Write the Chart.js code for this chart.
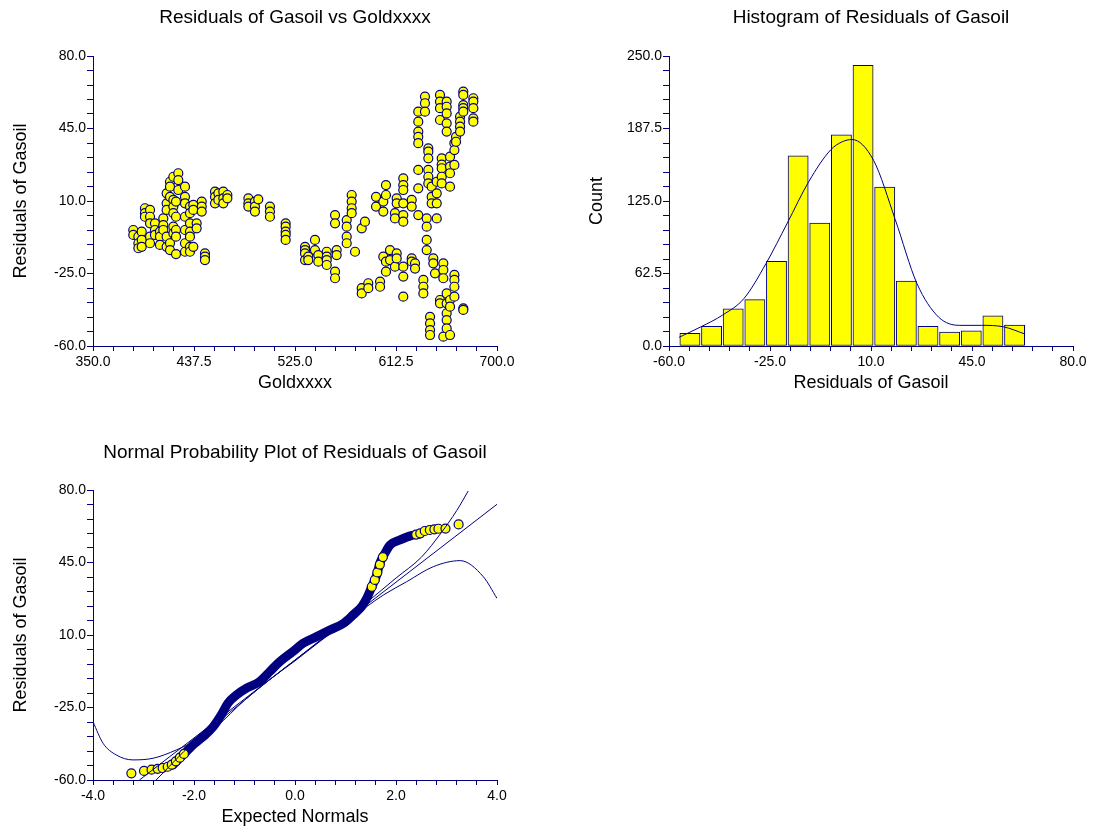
<!DOCTYPE html>
<html>
<head>
<meta charset="utf-8">
<script src="https://cdn.jsdelivr.net/npm/chart.js@4/dist/chart.umd.min.js"></script>
<style>
  html, body { margin: 0; padding: 0; background: #fff; overflow: hidden; }
  .panel { position: absolute; }
</style>
</head>
<body>
<div class="panel" style="left:0;top:0;width:530px;height:396px"><canvas id="scatterChart"></canvas></div>
<div class="panel" style="left:560px;top:0;width:541px;height:396px"><canvas id="histChart"></canvas></div>
<div class="panel" style="left:0;top:434px;width:530px;height:396px"><canvas id="qqChart"></canvas></div>
<script>
// ---- residuals vs Goldxxxx (stacked columns) ----
const goldCols = [384.9, 389.3, 392.2, 395.0, 399.4, 403.7, 408.0, 410.9, 413.8, 416.7,
  419.6, 421.9, 423.9, 429.7, 434.0, 436.9, 439.8, 444.2, 447.0, 455.7,
  458.6, 462.9, 466.4, 484.6, 490.3, 493.2, 503.3, 516.9, 533.7, 536.5,
  542.3, 545.2, 552.5, 559.7, 561.1, 569.8, 574.1, 577.0, 582.8, 585.6,
  588.5, 595.2, 598.7, 601.5, 603.8, 607.3, 611.6, 613.1, 618.8, 626.1,
  629.0, 631.8, 636.2, 637.6, 639.1, 640.5, 642.0, 643.4, 644.8, 646.3,
  647.8, 650.6, 652.1, 653.5, 656.4, 659.3, 663.1, 664.5, 668.0, 670.8, 679.5];
const residCols = [
  [-4.0, -6.4], [-7.2, -10.4, -12.8], [-4.8, -8.8, -12.1], [6.5, 4.1, 2.4],
  [5.7, 2.4, -0.8, -7.2, -10.4], [-0.8, -4.0, -6.4], [-4.8, -7.2, -11.2], [1.6, -1.6, -4.0],
  [13.7, 8.9, 5.7, -7.2, -12.1], [19.3, 16.9, 12.0, -10.4, -13.7],
  [21.7, 10.5, 7.3, 4.1, -2.4, -5.6], [9.7, 2.4, -4.0, -7.2, -15.6], [23.4, 20.1, 15.3],
  [16.9, 12.0, 8.9, 2.4, -4.0, -10.4, -14.5], [7.3, 4.1, -0.8, -4.8, -7.2, -12.1, -14.5],
  [8.1, 5.7, -12.1], [-0.8, -3.2], [9.7, 7.3, 4.9], [-15.3, -16.9, -18.5], [14.5, 12.0, 8.9],
  [13.7, 10.5], [14.5, 11.3, 8.9], [12.9, 11.3], [11.3, 8.9, 7.3], [9.7, 7.3, 4.9], [10.8],
  [7.3, 4.9, 2.4], [-0.8, -2.4, -4.8, -6.4, -8.8], [-12.1, -13.7, -15.3, -18.5], [-16.9, -18.5],
  [-8.8, -13.7], [-16.1, -19.3], [-14.5, -16.9, -18.5, -20.9], [3.2, -0.8, -24.1, -27.3],
  [-13.7, -16.1], [0.8, -2.4, -7.2, -10.4], [12.9, 9.7, 6.5, 4.1], [-14.5], [-3.2, -32.1, -34.6],
  [0.0], [-29.7, -32.1], [12.0, 7.3], [-28.9, -31.4], [9.7, 4.9, -16.9], [17.7, 12.9, -19.3, -24.1],
  [-13.7, -18.5], [4.1, 1.6, -21.7], [11.3, 8.9, -15.3, -17.7],
  [20.9, 17.7, 15.3, 8.9, 3.2, 0.0, -21.7, -26.5, -36.2], [10.5, 7.3, -17.7, -19.3],
  [-20.1, -22.6], [53.1, 48.3, 43.5, 41.0, 37.9, 25.0, 16.1, 3.2], [-28.1, -31.4, -34.6],
  [60.4, 57.2, 53.1], [1.6, -2.4, -8.8, -13.7], [35.4, 33.8, 30.6, 25.0, 21.7, 18.5],
  [-45.9, -49.1, -52.3, -54.7], [16.9, 12.0, 8.9], [-17.7, -20.1], [-24.9],
  [19.3, 13.7, 8.9, 1.6], [61.2, 58.0, 54.8, 49.1, -37.8, -39.4], [30.6, 27.6, 25.8, 21.7, 18.5],
  [-20.1, -23.3, -27.3, -55.5], [58.0, 55.5, 52.3, 47.5, 43.5, -34.6, -39.4, -44.2, -47.5, -51.5],
  [31.4, 26.6, 23.4, 16.9, -37.8, -41.0, -54.7], [37.9, 34.6, 27.4, -25.7, -28.1, -31.4, -36.2],
  [41.0, 38.6], [50.7, 48.3, 45.9, 43.5], [62.8, 61.2, 56.3, 54.8, 53.1, -41.8, -42.6],
  [59.6, 58.0, 54.8, 49.9, 48.3]
];

// ---- histogram of residuals ----
const binCenters = [-52.75, -45.25, -37.75, -30.25, -22.75, -15.25, -7.75, -0.25,
  7.25, 14.75, 22.25, 29.75, 37.25, 44.75, 52.25, 59.75];
const binCounts = [11, 17, 32, 40, 73, 164, 106, 182, 242, 137, 56, 17, 12, 13, 26, 18];
const densX = [-56.5, -48.9, -41.4, -34.0, -26.4, -19.0, -11.5, -4.0, 0.0, 3.4, 10.9, 18.4, 25.9, 33.4, 40.8, 48.3, 55.8, 63.4];
const densY = [7.5, 16.6, 26.7, 41, 71, 106, 142, 169, 176, 178, 160, 109, 54, 25, 17.8, 17.8, 16.6, 10.3];

// ---- normal probability plot ----
const qqBandX = [-2.42, -2.32, -2.15, -2.02, -1.82, -1.62, -1.46, -1.33, -1.16, -0.96, -0.70, -0.50, -0.30,
  -0.04, 0.16, 0.43, 0.69, 0.96, 1.15, 1.32, 1.42, 1.52, 1.62, 1.68, 1.78, 1.88, 2.08, 2.30, 2.48];
const qqBandY = [-52.8, -50.3, -46.3, -43.1, -39.1, -34.3, -28.6, -23.0, -19.0, -15.7, -12.5, -7.7, -2.9,
  2.0, 6.0, 9.2, 12.4, 15.6, 19.7, 23.7, 27.7, 33.3, 39.0, 44.6, 49.4, 53.4, 55.9, 58.0, 58.8];
const qqPtX = [-3.24, -2.99, -2.84, -2.72, -2.62, -2.52, -2.44, -2.36, -2.28, -2.20,
  1.52, 1.58, 1.63, 1.68, 1.74, 2.40, 2.48, 2.57, 2.67, 2.76, 2.84, 2.98, 3.24];
const qqPtY = [-56.8, -55.6, -55.0, -54.6, -54.2, -53.6, -52.6, -51.0, -49.2, -47.4,
  33.3, 36.6, 40.2, 44.0, 47.6, 58.5, 59.1, 60.2, 60.7, 61.0, 61.3, 61.4, 63.4];
const refLineX = [-3.08, 4.0];
const refLineY = [-60, 73.1];
const upperX = [-2.75, -2.4, -2.0, -1.5, -1.0, -0.5, 0, 0.5, 1.0, 1.5, 2.0, 2.5, 2.9, 3.2, 3.43];
const upperY = [-60, -51.2, -41.5, -31.5, -21.5, -11.5, -2.1, 7.5, 17.3, 27.3, 37.5, 47.5, 59.5, 70, 79.5];
const polyX = [-4, -3.8, -3.54, -3.21, -2.81, -2.35, -1.89, -1.56, -1.0, -0.5, 0, 0.5, 1.0, 1.42, 1.75, 2.21, 2.74, 3.27, 3.73, 4.0];
const polyY = [-31.9, -42.3, -47.9, -50.3, -49.5, -45.5, -39.9, -34.3, -21.5, -11.5, -2.5, 7.0, 16.0, 23.7, 29.3, 35.7, 43.0, 45.9, 38.1, 27.7];

const NAVY = '#000080';
const YELLOW = '#ffff00';
const FONT = "'Liberation Sans', Arial, Helvetica, sans-serif";

const zip = (xs, ys) => xs.map((x, i) => ({ x: x, y: ys[i] }));

// title centred over the plot area, like the original
const panelTitle = {
  id: 'panelTitle',
  afterDraw(chart, args, opts) {
    const { ctx, chartArea } = chart;
    ctx.save();
    ctx.font = '19px ' + FONT;
    ctx.fillStyle = '#000';
    ctx.textAlign = 'center';
    ctx.textBaseline = 'middle';
    ctx.fillText(opts.text, (chartArea.left + chartArea.right) / 2, opts.y);
    ctx.restore();
  }
};

function axis(min, max, step, title, horizontal, width, titlePad) {
  return {
    type: 'linear',
    min: min,
    max: max,
    offset: false,
    afterFit: (s) => { if (horizontal) s.height = 50; else s.width = width; },
    grid: { drawOnChartArea: false, drawTicks: true, tickLength: horizontal ? 5 : 6, tickColor: NAVY, color: NAVY, offset: false },
    border: { display: true, color: NAVY, width: 1 },
    ticks: {
      stepSize: step,
      autoSkip: false,
      maxTicksLimit: 100,
      maxRotation: 0,
      padding: horizontal ? 3 : 1,
      color: '#000',
      font: { family: FONT, size: 14 },
      callback: (v, i) => (i % 5 === 0 ? Number(v).toFixed(1) : '')
    },
    title: {
      display: true,
      text: title,
      color: '#000',
      font: { family: FONT, size: 18 },
      padding: horizontal ? { top: 0, bottom: 2 } : { top: titlePad, bottom: 0 }
    }
  };
}

function baseOptions(titleText, titleY, padRight) {
  return {
    responsive: true,
    maintainAspectRatio: false,
    animation: false,
    layout: { padding: { top: 56, right: padRight, bottom: 0, left: 0 } },
    plugins: {
      legend: { display: false },
      tooltip: { enabled: false },
      panelTitle: { text: titleText, y: titleY }
    }
  };
}

// scatter of residuals vs Goldxxxx
const scatterPts = goldCols.flatMap((g, i) => residCols[i].map(r => ({ x: g, y: r })));
const opt1 = baseOptions('Residuals of Gasoil vs Goldxxxx', 18, 33);
opt1.scales = {
  x: axis(350, 700, 17.5, 'Goldxxxx', true),
  y: axis(-60, 80, 7, 'Residuals of Gasoil', false, 93, 10)
};
new Chart(document.getElementById('scatterChart'), {
  type: 'scatter',
  data: { datasets: [{
    data: scatterPts,
    pointRadius: 4.5,
    pointBorderWidth: 1.2,
    pointBackgroundColor: YELLOW,
    pointBorderColor: NAVY
  }] },
  options: opt1,
  plugins: [panelTitle]
});

// histogram with density curve
const opt2 = baseOptions('Histogram of Residuals of Gasoil', 18, 28);
opt2.scales = {
  x: axis(-60, 80, 7, 'Residuals of Gasoil', true),
  y: axis(0, 250, 12.5, 'Count', false, 109, 26)
};
new Chart(document.getElementById('histChart'), {
  type: 'bar',
  data: { datasets: [
    {
      type: 'line',
      data: zip(densX, densY),
      borderColor: NAVY,
      borderWidth: 1,
      pointRadius: 0,
      cubicInterpolationMode: 'monotone',
      order: 0
    },
    {
      type: 'bar',
      data: zip(binCenters, binCounts),
      backgroundColor: YELLOW,
      borderColor: NAVY,
      borderWidth: 1,
      borderSkipped: false,
      barPercentage: 1,
      categoryPercentage: 1,
      order: 1
    }
  ] },
  options: opt2,
  plugins: [panelTitle]
});

// normal probability plot
const opt3 = baseOptions('Normal Probability Plot of Residuals of Gasoil', 19, 33);
opt3.scales = {
  x: axis(-4, 4, 0.4, 'Expected Normals', true),
  y: axis(-60, 80, 7, 'Residuals of Gasoil', false, 93, 10)
};
const lineDs = (xs, ys) => ({
  data: zip(xs, ys),
  showLine: true,
  borderColor: NAVY,
  borderWidth: 1,
  pointRadius: 0,
  cubicInterpolationMode: 'monotone',
  order: 1
});
new Chart(document.getElementById('qqChart'), {
  type: 'scatter',
  data: { datasets: [
    lineDs(refLineX, refLineY),
    lineDs(upperX, upperY),
    lineDs(polyX, polyY),
    {
      data: zip(qqPtX, qqPtY),
      pointRadius: 4.5,
      pointBorderWidth: 1.2,
      pointBackgroundColor: YELLOW,
      pointBorderColor: NAVY,
      order: 2
    },
    {
      data: zip(qqBandX, qqBandY),
      showLine: true,
      borderColor: NAVY,
      borderWidth: 9,
      borderCapStyle: 'round',
      borderJoinStyle: 'round',
      pointRadius: 0,
      cubicInterpolationMode: 'monotone',
      order: 3
    }
  ] },
  options: opt3,
  plugins: [panelTitle]
});
</script>
</body>
</html>
